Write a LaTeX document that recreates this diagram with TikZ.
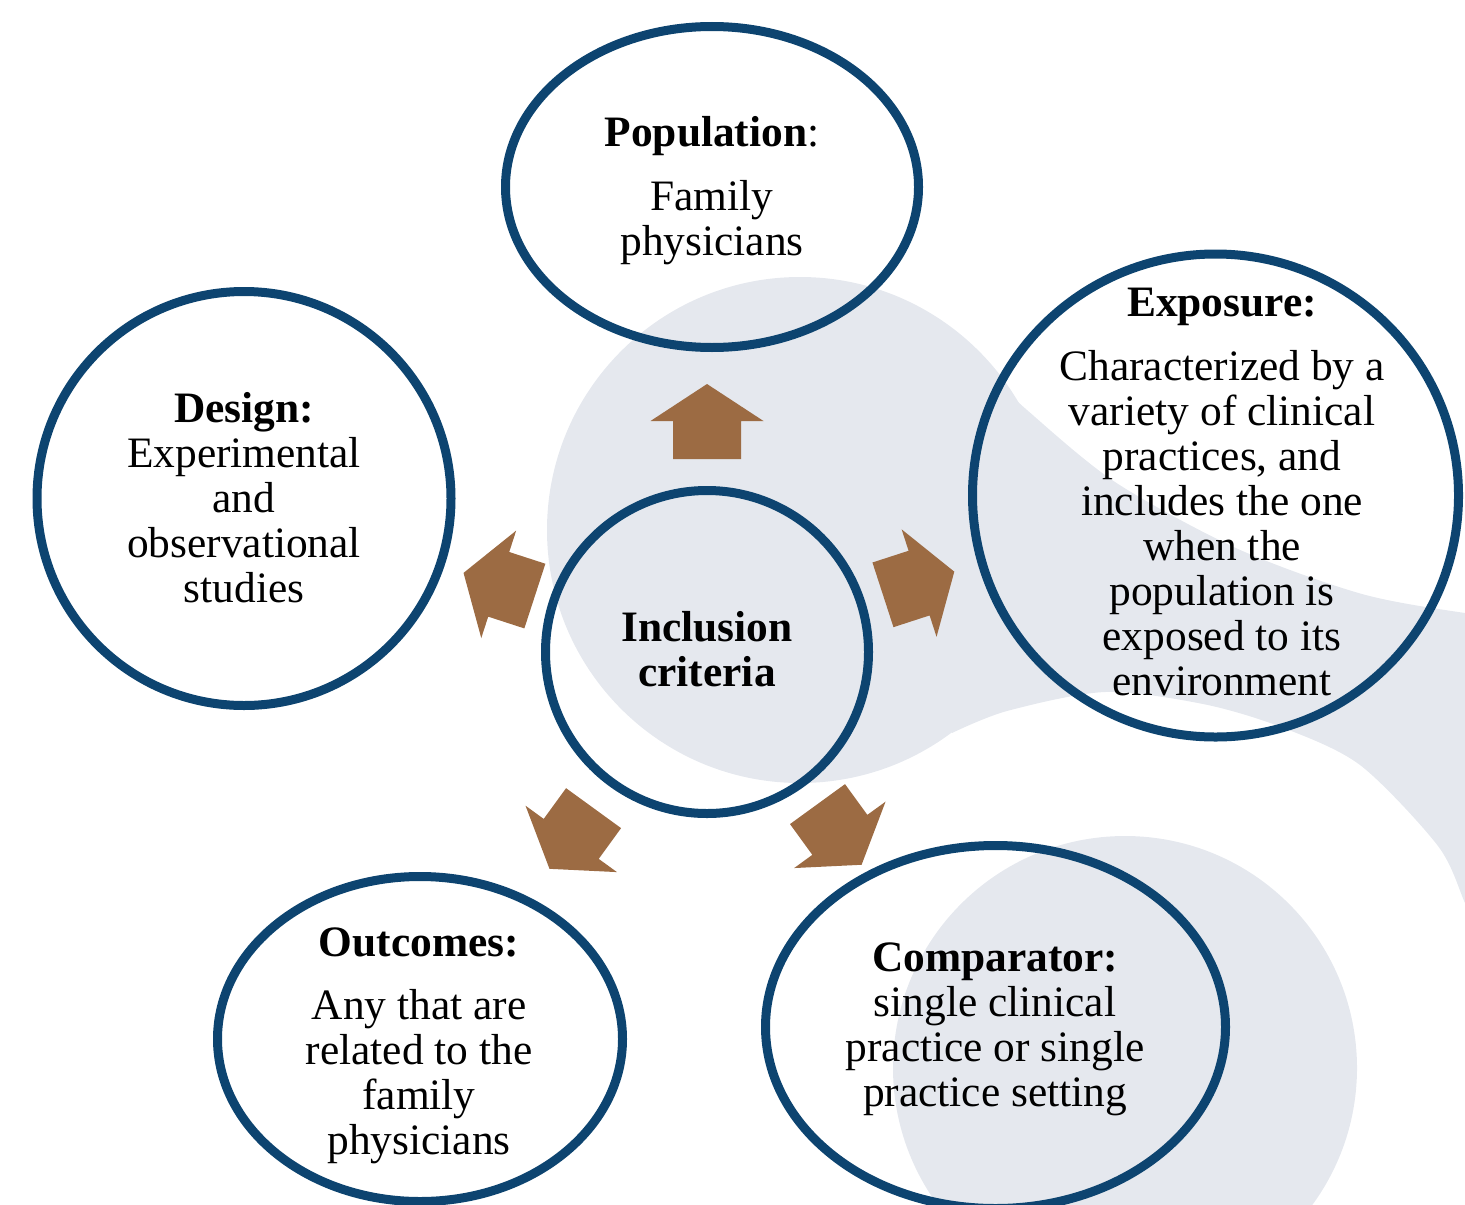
\documentclass[tikz,border=0pt]{standalone}
\usepackage{fontspec}
\setmainfont{Liberation Serif}
\usetikzlibrary{shapes.geometric}
\definecolor{ringblue}{HTML}{0D4470}
\definecolor{arrowbrown}{HTML}{9C6B43}
\definecolor{bggray}{HTML}{E5E8EE}
\begin{document}
\begin{tikzpicture}[x=0.5pt,y=-0.5pt,
  ring/.style={draw=ringblue, line width=4.5pt, ellipse, inner sep=0pt, outer sep=0pt},
  txt/.style={align=center, anchor=base, inner sep=0pt, font=\fontsize{21.7pt}{22.5pt}\selectfont},
  bgshape/.style={fill=bggray},
  blockarrow/.style={fill=arrowbrown}]
\useasboundingbox (0,0) rectangle (1465,1204);
\clip (0,0) rectangle (1465,1204);
% background shapes
\fill[bgshape] (800,530) circle[radius=253];
\fill[bgshape] plot[smooth] coordinates {(960,343) (1000,383) (1027,410) (1115,482) (1238,549) (1362,594) (1465,613) (1500,615)}
  -- (1500,900)
  -- plot[smooth] coordinates {(1480,935) (1465,903) (1438,846) (1360,765) (1281,727) (1203,704) (1105,692) (1007,711) (952,733)}
  -- (800,530) -- cycle;
\fill[bgshape] (1125,1068) circle[radius=232];
% rings
\node[ring, minimum width=206.5pt, minimum height=160.5pt] (pop) at (712,187) {};
\node[ring, minimum width=207pt, minimum height=207pt] (des) at (244,498.5) {};
\node[ring, minimum width=161.5pt, minimum height=161.5pt] (inc) at (707,652) {};
\node[ring, minimum width=243pt, minimum height=241.5pt] (expo) at (1215.5,495.5) {};
\node[ring, minimum width=202.5pt, minimum height=162.5pt] (outc) at (420,1039) {};
\node[ring, minimum width=230pt, minimum height=181.5pt] (comp) at (995.5,1027) {};
% block arrows around the centre
\foreach \ang/\off in {0/0,72/12,144/0,-72/8,-144/5}
  \fill[blockarrow, shift={(inc.center)}, rotate=\ang]
    (-34,-193+\off) -- (34,-193+\off) -- (34,-231+\off) -- (56.5,-231+\off) -- (0,-268+\off) -- (-56.5,-231+\off) -- (-34,-231+\off) -- cycle;
% texts (anchored at the baseline of the last line)
\node[txt] (popt) at (712,255) {\textbf{Population}:\\[9.5pt] Family\\ physicians};
\node[txt] (dest) at (244,602.7) {\textbf{Design:}\\ Experimental\\ and\\ observational\\ studies};
\node[txt] (inct) at (707,686.7) {\textbf{Inclusion}\\ \textbf{criteria}};
\node[txt] (expt) at (1222,695.7) {\textbf{Exposure:}\\[9.8pt] Characterized by a\\ variety of clinical\\ practices, and\\ includes the one\\ when the\\ population is\\ exposed to its\\ environment};
\node[txt] (outt) at (419,1154) {\textbf{Outcomes:}\\[8.7pt] Any that are\\ related to the\\ family\\ physicians};
\node[txt] (compt) at (995,1106.7) {\textbf{Comparator:}\\ single clinical\\ practice or single\\ practice setting};
\end{tikzpicture}
\end{document}
